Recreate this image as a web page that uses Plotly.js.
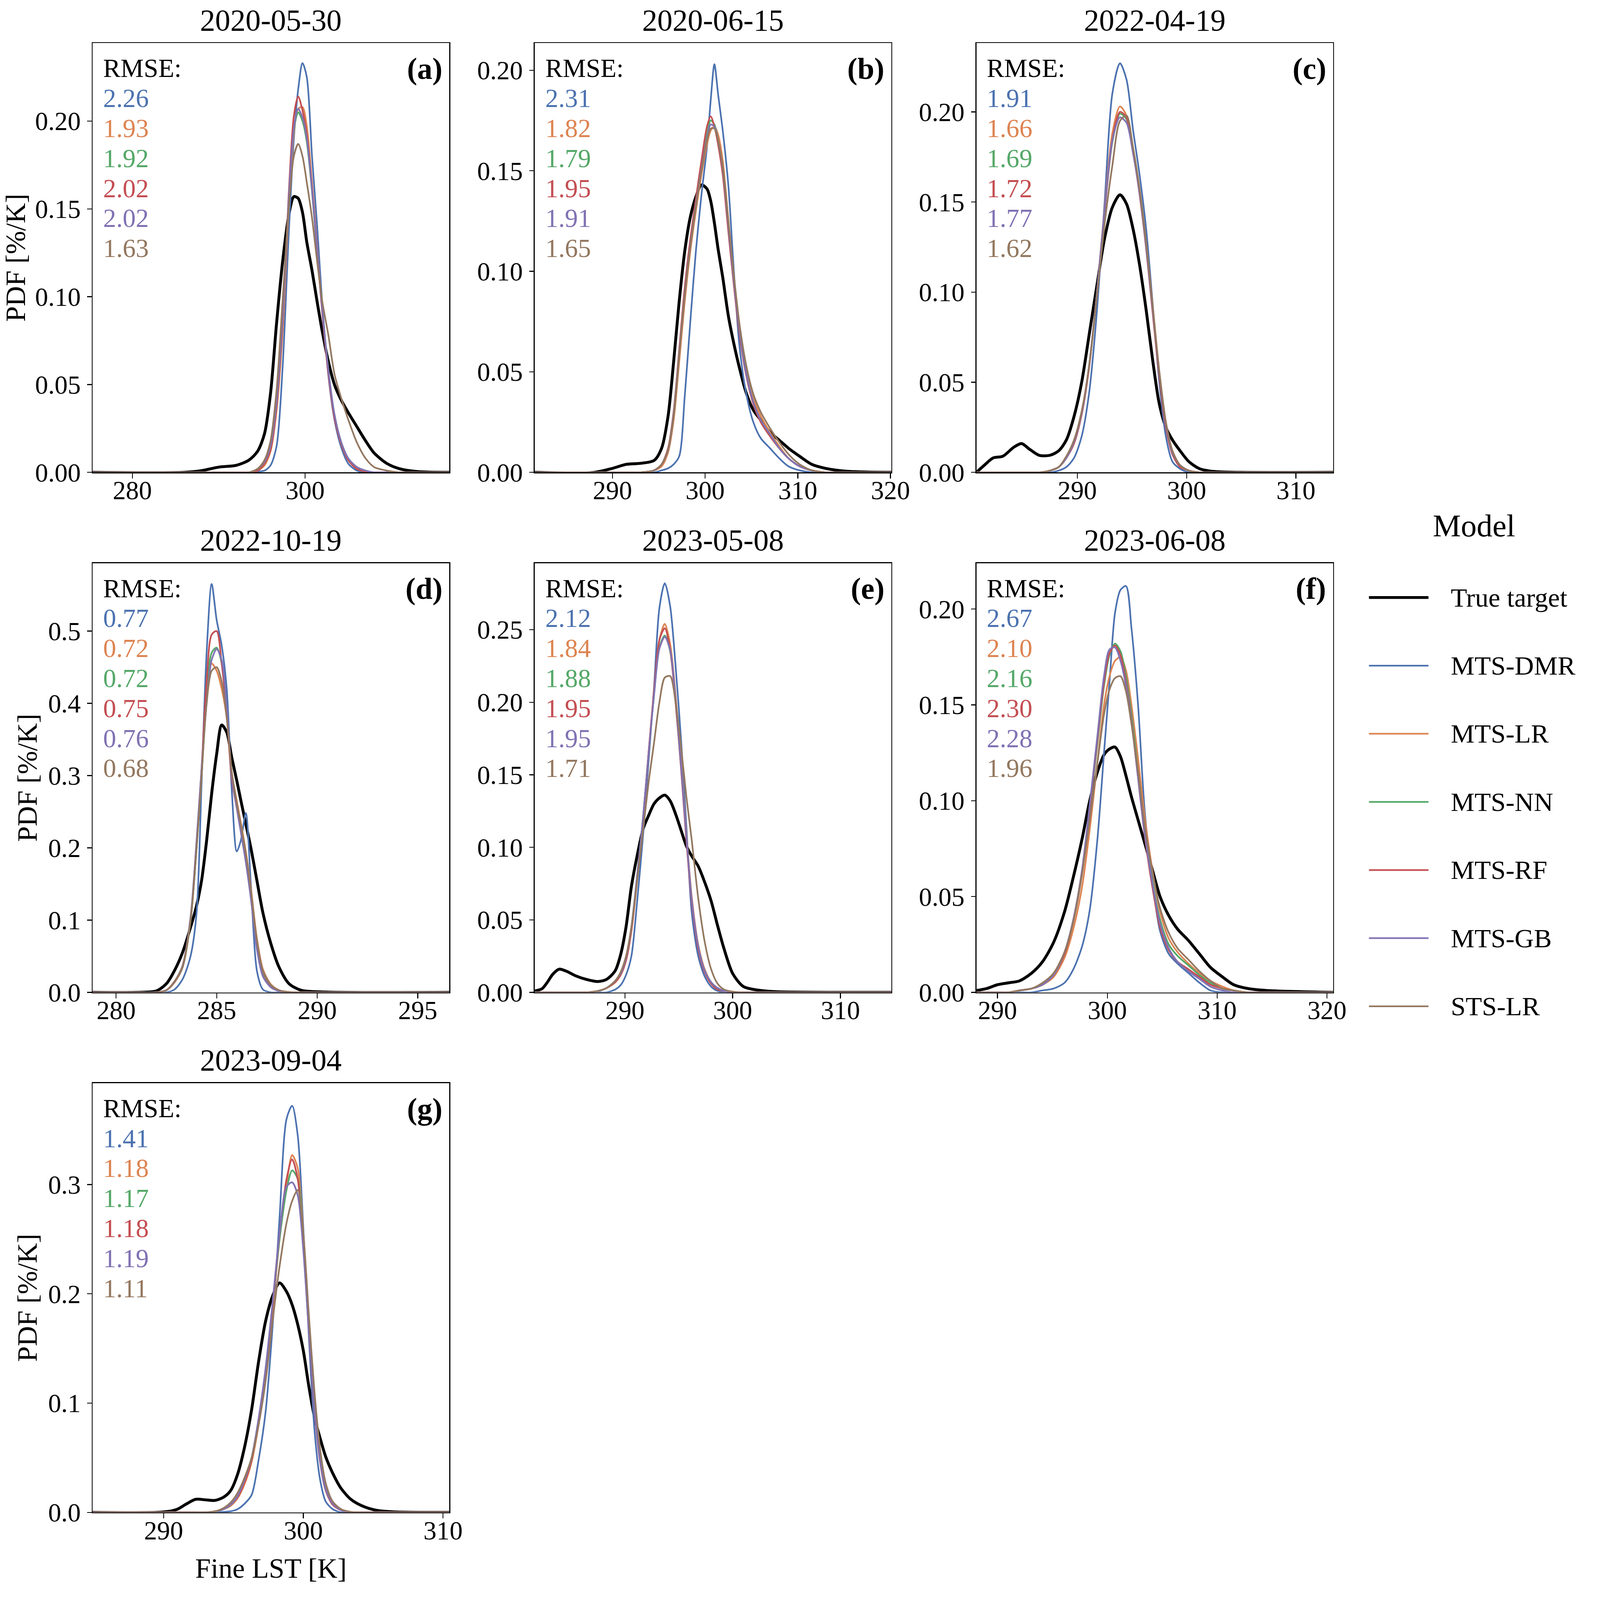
<!DOCTYPE html>
<html>
<head>
<meta charset="utf-8">
<script src="https://cdn.plot.ly/plotly-3.0.1.min.js"></script>
<style>html,body{margin:0;padding:0;background:#fff;overflow:hidden}</style>
</head>
<body>
<div id="chart"></div>
<script>
// Model names, colours (seaborn "deep") and panel labels
const models = ['True target', 'MTS-DMR', 'MTS-LR', 'MTS-NN', 'MTS-RF', 'MTS-GB', 'STS-LR'];
const colors = ['#000000', '#4C72B0', '#DD8452', '#55A868', '#C44E52', '#8172B3', '#937860'];
const dates = ['2020-05-30', '2020-06-15', '2022-04-19', '2022-10-19', '2023-05-08', '2023-06-08', '2023-09-04'];
const tags = ['(a)', '(b)', '(c)', '(d)', '(e)', '(f)', '(g)'];

// RMSE per panel, order: DMR, LR, NN, RF, GB, STS-LR
const rmseA = ['2.26', '1.93', '1.92', '2.02', '2.02', '1.63'];
const rmseB = ['2.31', '1.82', '1.79', '1.95', '1.91', '1.65'];
const rmseC = ['1.91', '1.66', '1.69', '1.72', '1.77', '1.62'];
const rmseD = ['0.77', '0.72', '0.72', '0.75', '0.76', '0.68'];
const rmseE = ['2.12', '1.84', '1.88', '1.95', '1.95', '1.71'];
const rmseF = ['2.67', '2.10', '2.16', '2.30', '2.28', '1.96'];
const rmseG = ['1.41', '1.18', '1.17', '1.18', '1.19', '1.11'];

// (a) 2020-05-30
const xA = [275.4, 286, 288, 290, 292, 293.5, 294.5, 295.3, 296, 296.7, 297.4, 298.1, 298.7, 299.2, 299.7, 300.2, 300.8, 301.4, 302, 302.7, 303.4, 304.2, 305, 306, 307, 308, 309.5, 311, 313, 316.7];
const trueA = [0, 0, 0.001, 0.003, 0.004, 0.007, 0.012, 0.022, 0.045, 0.085, 0.12, 0.146, 0.157, 0.156, 0.148, 0.131, 0.115, 0.097, 0.08, 0.063, 0.05, 0.041, 0.034, 0.026, 0.018, 0.011, 0.005, 0.002, 0.0005, 0];
const dmrA = [0, 0, 0, 0, 0, 0, 0.0005, 0.001, 0.004, 0.015, 0.06, 0.135, 0.19, 0.218, 0.233, 0.225, 0.18, 0.14, 0.095, 0.055, 0.03, 0.014, 0.005, 0.001, 0, 0, 0, 0, 0, 0];
const lrA = [0, 0, 0, 0, 0, 0, 0.001, 0.004, 0.012, 0.035, 0.08, 0.15, 0.193, 0.207, 0.208, 0.197, 0.165, 0.128, 0.092, 0.057, 0.032, 0.016, 0.007, 0.002, 0.0005, 0, 0, 0, 0, 0];
const nnA = [0, 0, 0, 0, 0, 0, 0.002, 0.006, 0.015, 0.04, 0.088, 0.155, 0.195, 0.205, 0.2, 0.188, 0.16, 0.125, 0.092, 0.058, 0.033, 0.017, 0.008, 0.003, 0.001, 0, 0, 0, 0, 0];
const rfA = [0, 0, 0, 0, 0, 0, 0.001, 0.005, 0.013, 0.038, 0.086, 0.158, 0.203, 0.214, 0.206, 0.192, 0.162, 0.126, 0.09, 0.056, 0.031, 0.016, 0.007, 0.002, 0.0005, 0, 0, 0, 0, 0];
const gbA = [0, 0, 0, 0, 0, 0, 0.002, 0.006, 0.015, 0.04, 0.088, 0.155, 0.196, 0.207, 0.202, 0.19, 0.161, 0.126, 0.092, 0.058, 0.033, 0.017, 0.008, 0.003, 0.001, 0, 0, 0, 0, 0];
const stsA = [0, 0, 0, 0, 0, 0, 0.002, 0.007, 0.018, 0.047, 0.098, 0.15, 0.18, 0.187, 0.18, 0.165, 0.145, 0.12, 0.097, 0.078, 0.056, 0.042, 0.03, 0.017, 0.008, 0.003, 0.001, 0, 0, 0];

// (b) 2020-06-15
const xB = [281.6, 288, 290, 291.5, 293, 294.5, 295.3, 296, 296.6, 297.2, 297.8, 298.4, 299, 299.6, 300.2, 300.6, 301.0, 301.4, 301.9, 302.5, 303.1, 303.7, 304.4, 305.2, 306, 307, 308, 309, 310.2, 311.5, 313, 315.5, 320.1];
const trueB = [0, 0, 0.002, 0.004, 0.0045, 0.006, 0.012, 0.028, 0.055, 0.085, 0.11, 0.127, 0.137, 0.143, 0.141, 0.135, 0.124, 0.111, 0.097, 0.078, 0.064, 0.052, 0.04, 0.031, 0.026, 0.02, 0.016, 0.012, 0.008, 0.004, 0.002, 0.0005, 0];
const dmrB = [0, 0, 0, 0, 0, 0, 0.001, 0.002, 0.004, 0.008, 0.038, 0.075, 0.11, 0.138, 0.162, 0.185, 0.203, 0.188, 0.17, 0.143, 0.1, 0.063, 0.04, 0.025, 0.017, 0.012, 0.007, 0.003, 0.001, 0, 0, 0, 0];
const lrB = [0, 0, 0, 0, 0, 0.001, 0.003, 0.01, 0.026, 0.055, 0.085, 0.11, 0.13, 0.148, 0.163, 0.17, 0.172, 0.168, 0.155, 0.126, 0.097, 0.072, 0.051, 0.037, 0.028, 0.02, 0.013, 0.007, 0.003, 0.001, 0, 0, 0];
const nnB = [0, 0, 0, 0, 0, 0.001, 0.004, 0.012, 0.03, 0.06, 0.09, 0.114, 0.134, 0.152, 0.168, 0.175, 0.173, 0.165, 0.15, 0.122, 0.094, 0.07, 0.05, 0.035, 0.026, 0.019, 0.012, 0.007, 0.003, 0.001, 0, 0, 0];
const rfB = [0, 0, 0, 0, 0, 0.001, 0.004, 0.012, 0.03, 0.061, 0.092, 0.116, 0.136, 0.155, 0.172, 0.177, 0.172, 0.163, 0.148, 0.12, 0.093, 0.069, 0.049, 0.034, 0.025, 0.018, 0.012, 0.007, 0.003, 0.001, 0, 0, 0];
const gbB = [0, 0, 0, 0, 0, 0.001, 0.004, 0.011, 0.029, 0.059, 0.089, 0.113, 0.133, 0.151, 0.166, 0.173, 0.172, 0.165, 0.151, 0.123, 0.095, 0.071, 0.05, 0.035, 0.026, 0.019, 0.012, 0.007, 0.003, 0.001, 0, 0, 0];
const stsB = [0, 0, 0, 0, 0, 0.001, 0.004, 0.011, 0.028, 0.058, 0.088, 0.112, 0.132, 0.15, 0.165, 0.171, 0.171, 0.165, 0.152, 0.125, 0.098, 0.074, 0.054, 0.039, 0.03, 0.022, 0.015, 0.009, 0.004, 0.001, 0, 0, 0];

// (c) 2022-04-19
const xC = [280.77, 281.5, 282.3, 283.2, 284.2, 284.9, 285.6, 286.5, 287.5, 288.3, 289, 289.7, 290.4, 291.1, 291.8, 292.5, 293.2, 293.9, 294.5, 295.1, 295.7, 296.3, 296.9, 297.5, 298.1, 298.7, 299.4, 300.2, 301.2, 302.5, 305, 313.4];
const trueC = [0, 0.004, 0.008, 0.009, 0.014, 0.016, 0.013, 0.0095, 0.0095, 0.012, 0.018, 0.031, 0.05, 0.077, 0.104, 0.13, 0.147, 0.154, 0.149, 0.135, 0.115, 0.09, 0.062, 0.038, 0.025, 0.018, 0.012, 0.006, 0.002, 0.0005, 0, 0];
const dmrC = [0, 0, 0, 0, 0, 0, 0, 0, 0, 0.001, 0.003, 0.008, 0.02, 0.045, 0.09, 0.15, 0.21, 0.227, 0.218, 0.19, 0.165, 0.135, 0.093, 0.05, 0.02, 0.006, 0.002, 0, 0, 0, 0, 0];
const lrC = [0, 0, 0, 0, 0, 0, 0, 0, 0.001, 0.003, 0.008, 0.017, 0.033, 0.06, 0.1, 0.147, 0.188, 0.203, 0.198, 0.18, 0.157, 0.127, 0.092, 0.056, 0.028, 0.012, 0.004, 0.001, 0, 0, 0, 0];
const nnC = [0, 0, 0, 0, 0, 0, 0, 0, 0.001, 0.003, 0.008, 0.017, 0.033, 0.06, 0.1, 0.145, 0.183, 0.199, 0.196, 0.178, 0.155, 0.125, 0.09, 0.055, 0.027, 0.011, 0.004, 0.001, 0, 0, 0, 0];
const rfC = [0, 0, 0, 0, 0, 0, 0, 0, 0.001, 0.003, 0.008, 0.016, 0.032, 0.059, 0.1, 0.145, 0.184, 0.2, 0.197, 0.178, 0.154, 0.124, 0.088, 0.053, 0.025, 0.01, 0.003, 0.001, 0, 0, 0, 0];
const gbC = [0, 0, 0, 0, 0, 0, 0, 0, 0.001, 0.003, 0.008, 0.017, 0.033, 0.06, 0.1, 0.146, 0.184, 0.197, 0.194, 0.177, 0.155, 0.125, 0.09, 0.055, 0.027, 0.011, 0.004, 0.001, 0, 0, 0, 0];
const stsC = [0, 0, 0, 0, 0, 0, 0, 0, 0.001, 0.003, 0.009, 0.018, 0.034, 0.06, 0.098, 0.138, 0.17, 0.195, 0.198, 0.18, 0.157, 0.127, 0.092, 0.056, 0.028, 0.012, 0.004, 0.001, 0, 0, 0, 0];

// (d) 2022-10-19
const xD = [278.83, 281, 282, 282.5, 282.9, 283.3, 283.7, 284.0, 284.25, 284.5, 284.75, 285.0, 285.25, 285.5, 285.75, 286.0, 286.2, 286.45, 286.7, 287.0, 287.3, 287.7, 288.1, 288.6, 289.2, 290.5, 296.57];
const trueD = [0, 0, 0.002, 0.012, 0.03, 0.055, 0.09, 0.12, 0.155, 0.21, 0.275, 0.33, 0.37, 0.36, 0.325, 0.293, 0.266, 0.233, 0.2, 0.155, 0.11, 0.067, 0.035, 0.012, 0.003, 0.0005, 0];
const dmrD = [0, 0, 0, 0, 0.004, 0.018, 0.05, 0.11, 0.29, 0.47, 0.565, 0.515, 0.48, 0.42, 0.28, 0.195, 0.21, 0.248, 0.15, 0.03, 0.004, 0, 0, 0, 0, 0, 0];
const lrD = [0, 0, 0, 0.003, 0.015, 0.035, 0.1, 0.2, 0.3, 0.41, 0.455, 0.445, 0.42, 0.38, 0.305, 0.265, 0.235, 0.195, 0.145, 0.075, 0.032, 0.011, 0.003, 0.0005, 0, 0, 0];
const nnD = [0, 0, 0, 0.003, 0.014, 0.034, 0.098, 0.2, 0.3, 0.41, 0.47, 0.477, 0.455, 0.39, 0.3, 0.258, 0.228, 0.188, 0.138, 0.065, 0.025, 0.008, 0.002, 0, 0, 0, 0];
const rfD = [0, 0, 0, 0.003, 0.014, 0.035, 0.1, 0.205, 0.31, 0.43, 0.495, 0.5, 0.455, 0.385, 0.295, 0.255, 0.225, 0.185, 0.135, 0.062, 0.023, 0.007, 0.002, 0, 0, 0, 0];
const gbD = [0, 0, 0, 0.003, 0.015, 0.037, 0.104, 0.21, 0.31, 0.4, 0.46, 0.475, 0.46, 0.395, 0.3, 0.255, 0.222, 0.18, 0.13, 0.06, 0.022, 0.007, 0.002, 0, 0, 0, 0];
const stsD = [0, 0, 0, 0.003, 0.015, 0.036, 0.1, 0.2, 0.3, 0.4, 0.445, 0.45, 0.43, 0.38, 0.305, 0.262, 0.232, 0.192, 0.142, 0.072, 0.03, 0.01, 0.003, 0.0005, 0, 0, 0];

// (e) 2023-05-08
const xE = [281.62, 282.3, 282.8, 283.3, 283.9, 284.6, 285.4, 286.4, 287.5, 288.3, 289.1, 289.6, 290.1, 290.6, 291.1, 291.7, 292.2, 292.7, 293.2, 293.7, 294.2, 294.7, 295.2, 295.7, 296.2, 296.8, 297.4, 298, 298.6, 299.2, 300, 301, 302.4, 304, 314.73];
const trueE = [0.001, 0.0025, 0.007, 0.0125, 0.016, 0.0145, 0.0115, 0.009, 0.0075, 0.009, 0.015, 0.026, 0.045, 0.073, 0.093, 0.113, 0.122, 0.13, 0.134, 0.136, 0.132, 0.123, 0.112, 0.101, 0.094, 0.087, 0.076, 0.063, 0.046, 0.03, 0.013, 0.004, 0.0015, 0.0005, 0];
const dmrE = [0, 0, 0, 0, 0, 0, 0, 0, 0, 0, 0.002, 0.005, 0.012, 0.025, 0.06, 0.11, 0.16, 0.21, 0.265, 0.282, 0.266, 0.225, 0.175, 0.115, 0.055, 0.025, 0.011, 0.004, 0.001, 0, 0, 0, 0, 0, 0];
const lrE = [0, 0, 0, 0, 0, 0, 0, 0, 0.001, 0.003, 0.007, 0.012, 0.022, 0.042, 0.075, 0.12, 0.165, 0.207, 0.243, 0.254, 0.24, 0.205, 0.16, 0.11, 0.066, 0.033, 0.016, 0.007, 0.003, 0.001, 0, 0, 0, 0, 0];
const nnE = [0, 0, 0, 0, 0, 0, 0, 0, 0.001, 0.003, 0.008, 0.013, 0.024, 0.045, 0.078, 0.122, 0.165, 0.205, 0.238, 0.246, 0.235, 0.2, 0.156, 0.107, 0.063, 0.031, 0.015, 0.007, 0.003, 0.001, 0, 0, 0, 0, 0];
const rfE = [0, 0, 0, 0, 0, 0, 0, 0, 0.001, 0.003, 0.007, 0.012, 0.022, 0.043, 0.076, 0.121, 0.166, 0.208, 0.243, 0.251, 0.236, 0.2, 0.155, 0.105, 0.062, 0.03, 0.014, 0.006, 0.002, 0.001, 0, 0, 0, 0, 0];
const gbE = [0, 0, 0, 0, 0, 0, 0, 0, 0.001, 0.003, 0.008, 0.013, 0.024, 0.045, 0.078, 0.122, 0.165, 0.205, 0.237, 0.245, 0.236, 0.202, 0.157, 0.108, 0.064, 0.032, 0.015, 0.007, 0.003, 0.001, 0, 0, 0, 0, 0];
const stsE = [0, 0, 0, 0, 0, 0, 0, 0, 0.001, 0.003, 0.008, 0.014, 0.025, 0.045, 0.075, 0.113, 0.145, 0.172, 0.2, 0.217, 0.218, 0.2, 0.17, 0.135, 0.105, 0.065, 0.035, 0.016, 0.006, 0.002, 0.0005, 0, 0, 0, 0];

// (f) 2023-06-08
const xF = [288.08, 289, 290, 291, 292, 293.1, 294.1, 295.1, 296.1, 296.9, 297.7, 298.4, 299.1, 299.7, 300.2, 300.7, 301.2, 301.7, 302.2, 302.8, 303.4, 304.1, 304.8, 305.6, 306.4, 307.4, 308.4, 309.4, 310.5, 311.5, 312.8, 314.5, 320.56];
const trueF = [0.001, 0.002, 0.004, 0.005, 0.006, 0.01, 0.016, 0.026, 0.042, 0.06, 0.08, 0.1, 0.115, 0.124, 0.127, 0.128, 0.123, 0.113, 0.102, 0.09, 0.078, 0.064, 0.05, 0.04, 0.033, 0.027, 0.02, 0.013, 0.008, 0.004, 0.002, 0.001, 0];
const dmrF = [0, 0, 0, 0, 0, 0, 0.001, 0.002, 0.005, 0.012, 0.024, 0.043, 0.08, 0.125, 0.162, 0.198, 0.21, 0.212, 0.19, 0.15, 0.095, 0.058, 0.032, 0.02, 0.015, 0.01, 0.005, 0.001, 0, 0, 0, 0, 0];
const lrF = [0, 0, 0, 0, 0.001, 0.002, 0.004, 0.008, 0.018, 0.033, 0.055, 0.085, 0.12, 0.15, 0.165, 0.173, 0.175, 0.168, 0.15, 0.122, 0.092, 0.064, 0.042, 0.028, 0.021, 0.015, 0.01, 0.006, 0.003, 0.001, 0, 0, 0];
const nnF = [0, 0, 0, 0, 0.001, 0.002, 0.004, 0.009, 0.02, 0.037, 0.062, 0.095, 0.13, 0.16, 0.176, 0.182, 0.178, 0.165, 0.145, 0.115, 0.085, 0.058, 0.038, 0.025, 0.019, 0.014, 0.009, 0.005, 0.002, 0.001, 0, 0, 0];
const rfF = [0, 0, 0, 0, 0.001, 0.002, 0.004, 0.009, 0.02, 0.037, 0.062, 0.096, 0.132, 0.162, 0.177, 0.181, 0.176, 0.162, 0.142, 0.112, 0.082, 0.055, 0.034, 0.022, 0.016, 0.012, 0.008, 0.004, 0.002, 0.001, 0, 0, 0];
const gbF = [0, 0, 0, 0, 0.001, 0.002, 0.004, 0.009, 0.021, 0.038, 0.064, 0.098, 0.134, 0.165, 0.179, 0.18, 0.173, 0.16, 0.141, 0.112, 0.083, 0.057, 0.036, 0.023, 0.016, 0.011, 0.007, 0.003, 0.001, 0, 0, 0, 0];
const stsF = [0, 0, 0, 0, 0.001, 0.002, 0.005, 0.01, 0.021, 0.037, 0.062, 0.09, 0.12, 0.145, 0.158, 0.164, 0.165, 0.157, 0.14, 0.115, 0.088, 0.063, 0.044, 0.031, 0.023, 0.017, 0.011, 0.006, 0.002, 0.001, 0, 0, 0];

// (g) 2023-09-04
const xG = [284.92, 289.5, 290.4, 291, 291.6, 292.3, 293, 293.7, 294.3, 294.8, 295.3, 295.8, 296.3, 296.8, 297.3, 297.8, 298.3, 298.8, 299.2, 299.6, 300, 300.4, 300.8, 301.2, 301.6, 302.1, 302.7, 303.4, 304.2, 305.2, 306.5, 310.45];
const trueG = [0, 0, 0.001, 0.003, 0.0075, 0.012, 0.0115, 0.011, 0.014, 0.02, 0.035, 0.06, 0.094, 0.138, 0.175, 0.198, 0.21, 0.202, 0.19, 0.172, 0.148, 0.115, 0.087, 0.068, 0.051, 0.036, 0.022, 0.012, 0.006, 0.002, 0.0005, 0];
const dmrG = [0, 0, 0, 0, 0, 0, 0, 0, 0.0005, 0.001, 0.003, 0.008, 0.016, 0.048, 0.092, 0.17, 0.27, 0.36, 0.372, 0.345, 0.26, 0.16, 0.075, 0.03, 0.01, 0.003, 0, 0, 0, 0, 0, 0];
const lrG = [0, 0, 0, 0, 0, 0, 0, 0.001, 0.003, 0.006, 0.013, 0.026, 0.046, 0.08, 0.125, 0.185, 0.25, 0.3, 0.327, 0.315, 0.255, 0.175, 0.1, 0.05, 0.022, 0.008, 0.002, 0, 0, 0, 0, 0];
const nnG = [0, 0, 0, 0, 0, 0, 0, 0.001, 0.003, 0.007, 0.015, 0.03, 0.05, 0.085, 0.13, 0.19, 0.25, 0.295, 0.313, 0.305, 0.25, 0.17, 0.097, 0.048, 0.021, 0.008, 0.002, 0, 0, 0, 0, 0];
const rfG = [0, 0, 0, 0, 0, 0, 0, 0.001, 0.003, 0.007, 0.014, 0.028, 0.048, 0.083, 0.128, 0.19, 0.255, 0.305, 0.323, 0.305, 0.245, 0.165, 0.093, 0.046, 0.02, 0.007, 0.002, 0, 0, 0, 0, 0];
const gbG = [0, 0, 0, 0, 0, 0, 0, 0.001, 0.003, 0.007, 0.015, 0.03, 0.05, 0.086, 0.132, 0.192, 0.255, 0.298, 0.302, 0.29, 0.24, 0.165, 0.095, 0.047, 0.021, 0.008, 0.002, 0, 0, 0, 0, 0];
const stsG = [0, 0, 0, 0, 0, 0, 0, 0.001, 0.004, 0.009, 0.018, 0.032, 0.05, 0.08, 0.12, 0.175, 0.225, 0.265, 0.285, 0.295, 0.255, 0.18, 0.11, 0.058, 0.027, 0.01, 0.003, 0.0005, 0, 0, 0, 0];

const panels = [
  {x: xA, ys: [trueA, dmrA, lrA, nnA, rfA, gbA, stsA], rmse: rmseA, xr: [275.4, 316.7], yr: [0, 0.2444], xd: 20, yd: 0.05, yf: '.2f'},
  {x: xB, ys: [trueB, dmrB, lrB, nnB, rfB, gbB, stsB], rmse: rmseB, xr: [281.6, 320.1], yr: [0, 0.2135], xd: 10, yd: 0.05, yf: '.2f'},
  {x: xC, ys: [trueC, dmrC, lrC, nnC, rfC, gbC, stsC], rmse: rmseC, xr: [280.77, 313.4], yr: [0, 0.2382], xd: 10, yd: 0.05, yf: '.2f'},
  {x: xD, ys: [trueD, dmrD, lrD, nnD, rfD, gbD, stsD], rmse: rmseD, xr: [278.83, 296.57], yr: [0, 0.594], xd: 5, yd: 0.1, yf: '.1f'},
  {x: xE, ys: [trueE, dmrE, lrE, nnE, rfE, gbE, stsE], rmse: rmseE, xr: [281.62, 314.73], yr: [0, 0.2959], xd: 10, yd: 0.05, yf: '.2f'},
  {x: xF, ys: [trueF, dmrF, lrF, nnF, rfF, gbF, stsF], rmse: rmseF, xr: [288.08, 320.56], yr: [0, 0.224], xd: 10, yd: 0.05, yf: '.2f'},
  {x: xG, ys: [trueG, dmrG, lrG, nnG, rfG, gbG, stsG], rmse: rmseG, xr: [284.92, 310.45], yr: [0, 0.3928], xd: 10, yd: 0.1, yf: '.1f'}
];

// reference canvas is 5270 x 4603; stretch the layout over the window that is really there
const W0 = 5270, H0 = 4603;
const W = window.innerWidth || W0, H = window.innerHeight || H0;
const sx = W / W0, sy = H / H0;
const px = v => v * sx;   // sizes and horizontal offsets
const py = v => v * sy;   // vertical offsets

const FONT = '"Liberation Serif", "DejaVu Serif", serif';
const colLeft = [305, 1761, 3216], panelW = 1175;
const rowTop = [124, 1620, 3116], panelH = 1235;

const axisStyle = {
  showline: true, mirror: true, linecolor: 'black', linewidth: px(3),
  ticks: 'outside', ticklen: py(15), tickwidth: px(3), tickcolor: 'black',
  showgrid: false, zeroline: false, tick0: 0,
  tickfont: {family: FONT, size: px(86), color: 'black'}
};

const traces = [];
const layout = {
  width: W, height: H,
  margin: {l: 0, r: 0, t: 0, b: 0},
  paper_bgcolor: 'white', plot_bgcolor: 'white',
  showlegend: false,
  font: {family: FONT, color: 'black', size: px(86)},
  annotations: [], shapes: []
};

panels.forEach((p, i) => {
  const row = Math.floor(i / 3), col = i % 3;
  const n = i === 0 ? '' : String(i + 1);
  const xa = {...axisStyle, domain: [colLeft[col] / W0, (colLeft[col] + panelW) / W0], anchor: 'y' + n,
    range: p.xr, dtick: p.xd, tickformat: 'd', ticklabelstandoff: Math.round(py(-30))};
  const ya = {...axisStyle, ticklen: px(15), domain: [1 - (rowTop[row] + panelH) / H0, 1 - rowTop[row] / H0], anchor: 'x' + n,
    range: p.yr, dtick: p.yd, tickformat: p.yf, ticklabelstandoff: Math.round(px(4))};
  if (col === 0) ya.title = {text: 'PDF [%/K]', font: {family: FONT, size: px(92)}, standoff: px(i === 0 ? 32 : 7)};
  if (i === 6) xa.title = {text: 'Fine LST [K]', font: {family: FONT, size: px(92)}, standoff: py(40)};
  layout['xaxis' + n] = xa;
  layout['yaxis' + n] = ya;

  p.ys.forEach((y, j) => {
    traces.push({
      x: p.x, y: y, xaxis: 'x' + n, yaxis: 'y' + n,
      type: 'scatter', mode: 'lines', hoverinfo: 'skip',
      line: {color: colors[j], width: px(j === 0 ? 9.5 : 5.5), shape: 'spline', smoothing: 0.8}
    });
  });

  const xr = 'x' + n + ' domain', yr = 'y' + n + ' domain';
  layout.annotations.push({text: dates[i], xref: xr, yref: yr, x: 0.5, y: 1, yshift: py(66),
    xanchor: 'center', yanchor: 'middle', showarrow: false, font: {family: FONT, size: px(100)}});
  layout.annotations.push({text: 'RMSE:', xref: xr, yref: yr, x: 0, y: 1, xshift: px(32), yshift: py(-72),
    xanchor: 'left', yanchor: 'middle', showarrow: false, font: {family: FONT, size: px(86)}});
  p.rmse.forEach((v, k) => {
    layout.annotations.push({text: v, xref: xr, yref: yr, x: 0, y: 1, xshift: px(32), yshift: py(-72 - 86.3 * (k + 1)),
      xanchor: 'left', yanchor: 'middle', showarrow: false, font: {family: FONT, size: px(86), color: colors[k + 1]}});
  });
  layout.annotations.push({text: '<b>' + tags[i] + '</b>', xref: xr, yref: yr, x: 1, y: 1, xshift: px(-20), yshift: py(-74),
    xanchor: 'right', yanchor: 'middle', showarrow: false, font: {family: FONT, size: px(100)}});
});

// legend drawn by hand, matplotlib style
layout.annotations.push({text: 'Model', xref: 'paper', yref: 'paper', x: 4855 / W0, y: 1 - 1512 / H0,
  xanchor: 'center', yanchor: 'middle', showarrow: false, font: {family: FONT, size: px(104)}});
models.forEach((m, j) => {
  const yy = 1 - (1719 + 196 * j) / H0;
  layout.shapes.push({type: 'line', xref: 'paper', yref: 'paper', x0: 4509 / W0, x1: 4705 / W0, y0: yy, y1: yy,
    line: {color: colors[j], width: px(j === 0 ? 9.5 : 5.5)}});
  layout.annotations.push({text: m, xref: 'paper', yref: 'paper', x: 4776 / W0, y: yy,
    xanchor: 'left', yanchor: 'middle', showarrow: false, font: {family: FONT, size: px(88)}});
});

Plotly.newPlot('chart', traces, layout, {staticPlot: true});
</script>
</body>
</html>
